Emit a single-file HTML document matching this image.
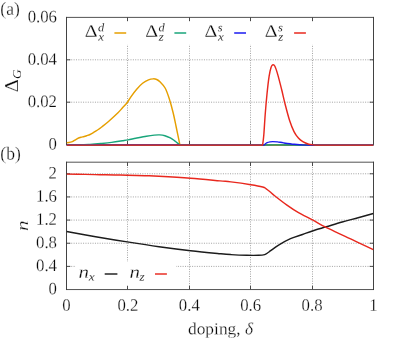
<!DOCTYPE html>
<html><head><meta charset="utf-8"><title>plot</title>
<style>html,body{margin:0;padding:0;background:#fff;overflow:hidden}svg{display:block;will-change:transform}.t{font-family:"Liberation Serif",serif}</style></head>
<body>
<svg width="415" height="341" viewBox="0 0 415 341">
<path d="M127.50,17.40 V144.60 M127.50,162.20 V289.55 M189.50,17.40 V144.60 M189.50,162.20 V289.55 M250.50,17.40 V144.60 M250.50,162.20 V289.55 M312.50,17.40 V144.60 M312.50,162.20 V289.55 M66.50,102.20 H373.50 M66.50,59.80 H373.50 M66.50,266.40 H373.50 M66.50,243.24 H373.50 M66.50,220.09 H373.50 M66.50,196.93 H373.50 M66.50,173.78 H373.50" fill="none" stroke="#8c8c8c" stroke-width="0.8" stroke-dasharray="1,1.37"/>
<rect x="76" y="21" width="242" height="23.8" fill="#fff"/>
<rect x="76" y="262" width="100" height="24.2" fill="#fff"/>
<defs><clipPath id="c1"><rect x="66.50" y="17.40" width="307.00" height="129.20"/></clipPath>
<clipPath id="c2"><rect x="66.50" y="162.20" width="307.00" height="127.35"/></clipPath></defs>
<path d="M127.50,144.60 v-3.80 M127.50,17.40 v3.80 M127.50,289.55 v-3.80 M127.50,162.20 v3.80 M189.50,144.60 v-3.80 M189.50,17.40 v3.80 M189.50,289.55 v-3.80 M189.50,162.20 v3.80 M250.50,144.60 v-3.80 M250.50,17.40 v3.80 M250.50,289.55 v-3.80 M250.50,162.20 v3.80 M312.50,144.60 v-3.80 M312.50,17.40 v3.80 M312.50,289.55 v-3.80 M312.50,162.20 v3.80 M66.50,102.20 h3.80 M373.50,102.20 h-3.80 M66.50,59.80 h3.80 M373.50,59.80 h-3.80 M66.50,266.40 h3.80 M373.50,266.40 h-3.80 M66.50,243.24 h3.80 M373.50,243.24 h-3.80 M66.50,220.09 h3.80 M373.50,220.09 h-3.80 M66.50,196.93 h3.80 M373.50,196.93 h-3.80 M66.50,173.78 h3.80 M373.50,173.78 h-3.80" fill="none" stroke="#3a3a3a" stroke-width="0.9"/>
<path d="M66.00,17.40 H374.00 M66.00,144.60 H374.00 M66.00,162.20 H374.00 M66.00,289.55 H374.00" fill="none" stroke="#4a4a4a" stroke-width="0.95"/>
<path d="M66.50,16.95 V145.05 M373.50,16.95 V145.05 M66.50,161.75 V290.00 M373.50,161.75 V290.00" fill="none" stroke="#383838" stroke-width="0.95"/>
<path d="M66.60,142.80 C67.00,142.75 68.17,142.65 69.00,142.50 C69.83,142.35 70.85,142.15 71.60,141.90 C72.35,141.65 72.85,141.35 73.50,141.00 C74.15,140.65 74.83,140.20 75.50,139.80 C76.17,139.40 76.87,138.95 77.50,138.60 C78.13,138.25 78.63,137.95 79.30,137.70 C79.97,137.45 80.68,137.30 81.50,137.10 C82.32,136.90 83.28,136.75 84.20,136.50 C85.12,136.25 86.03,135.93 87.00,135.60 C87.97,135.27 89.00,134.95 90.00,134.50 C91.00,134.05 92.05,133.45 93.00,132.90 C93.95,132.35 94.70,131.85 95.70,131.20 C96.70,130.55 97.95,129.73 99.00,129.00 C100.05,128.27 100.37,128.10 102.00,126.80 C103.63,125.50 106.13,123.53 108.80,121.20 C111.47,118.87 115.72,115.03 118.00,112.80 C120.28,110.57 120.95,109.52 122.50,107.80 C124.05,106.08 125.90,104.33 127.30,102.50 C128.70,100.67 129.33,99.02 130.90,96.80 C132.47,94.58 134.75,91.45 136.70,89.20 C138.65,86.95 140.63,84.87 142.60,83.30 C144.57,81.73 146.73,80.54 148.50,79.80 C150.27,79.06 151.83,78.90 153.20,78.85 C154.57,78.80 155.53,78.96 156.70,79.50 C157.87,80.04 158.80,80.68 160.20,82.10 C161.60,83.52 163.60,85.27 165.10,88.00 C166.60,90.73 167.85,94.33 169.20,98.50 C170.55,102.67 172.02,108.17 173.20,113.00 C174.38,117.83 175.20,122.28 176.30,127.50 C177.40,132.72 179.22,141.50 179.80,144.30 L180.3,145.2 L373.5,145.2" fill="none" stroke="#e69f00" stroke-width="1.45" stroke-linejoin="round" clip-path="url(#c1)"/>
<path d="M66.60,145.20 C68.83,145.17 76.10,145.13 80.00,145.00 C83.90,144.87 86.53,144.65 90.00,144.40 C93.47,144.15 97.18,143.83 100.80,143.50 C104.42,143.17 108.08,142.85 111.70,142.40 C115.32,141.95 119.78,141.22 122.50,140.80 C125.22,140.38 125.78,140.32 128.00,139.90 C130.22,139.48 132.73,138.92 135.80,138.30 C138.87,137.68 143.32,136.73 146.40,136.20 C149.48,135.67 152.10,135.32 154.30,135.10 C156.50,134.88 157.83,134.80 159.60,134.90 C161.37,135.00 163.12,135.20 164.90,135.70 C166.68,136.20 168.72,137.08 170.30,137.90 C171.88,138.72 172.92,139.52 174.40,140.60 C175.88,141.68 178.40,143.77 179.20,144.40 L179.9,145.2 L262.5,145.2 L263.20,145.20 C264.00,145.16 266.03,145.01 268.00,144.95 C269.97,144.89 272.17,144.85 275.00,144.85 C277.83,144.85 280.83,144.89 285.00,144.95 C289.17,145.01 297.50,145.16 300.00,145.20 L373.5,145.2" fill="none" stroke="#18a57a" stroke-width="1.45" stroke-linejoin="round" clip-path="url(#c1)"/>
<path d="M66.5,145.2 L263.5,145.2 L263.80,145.20 C264.03,145.00 264.63,144.42 265.20,144.00 C265.77,143.58 266.40,143.05 267.20,142.70 C268.00,142.35 269.07,142.08 270.00,141.90 C270.93,141.72 271.55,141.60 272.80,141.60 C274.05,141.60 275.70,141.68 277.50,141.90 C279.30,142.12 280.78,142.50 283.60,142.90 C286.42,143.30 290.83,143.93 294.40,144.30 C297.97,144.67 301.90,144.95 305.00,145.10 C308.10,145.25 311.67,145.18 313.00,145.20 L373.5,145.2" fill="none" stroke="#1a1af0" stroke-width="1.45" stroke-linejoin="round" clip-path="url(#c1)"/>
<path d="M66.5,145.2 L262.4,145.2 L262.60,145.20 C262.80,143.50 263.37,140.12 263.80,135.00 C264.23,129.88 264.67,121.33 265.20,114.50 C265.73,107.67 266.35,100.35 267.00,94.00 C267.65,87.65 268.42,80.87 269.10,76.40 C269.78,71.93 270.47,69.13 271.10,67.20 C271.73,65.27 272.27,64.95 272.90,64.80 C273.53,64.65 274.07,64.58 274.90,66.30 C275.73,68.02 276.77,71.18 277.90,75.10 C279.03,79.02 280.48,84.90 281.70,89.80 C282.92,94.70 283.88,99.38 285.20,104.50 C286.52,109.62 288.13,115.98 289.60,120.50 C291.07,125.02 292.53,128.67 294.00,131.60 C295.47,134.53 296.93,136.43 298.40,138.10 C299.87,139.77 301.08,140.58 302.80,141.60 C304.52,142.62 307.00,143.65 308.70,144.20 C310.40,144.75 311.78,144.73 313.00,144.90 C314.22,145.07 315.50,145.15 316.00,145.20 L317,145.2 L373.5,145.2" fill="none" stroke="#e8281e" stroke-width="1.45" stroke-linejoin="round" clip-path="url(#c1)"/>
<path d="M67.0,145.5 H373.0" stroke="rgb(80,90,110)" stroke-opacity="0.27" stroke-width="1"/>
<path d="M66.60,231.50 C71.43,232.37 85.48,234.97 95.60,236.70 C105.72,238.43 116.73,240.23 127.30,241.90 C137.87,243.57 148.45,245.23 159.00,246.70 C169.55,248.17 180.43,249.53 190.60,250.70 C200.77,251.87 213.28,253.05 220.00,253.70 C226.72,254.35 226.43,254.33 230.90,254.60 C235.37,254.87 242.17,255.18 246.80,255.30 C251.43,255.42 255.72,255.42 258.70,255.30 C261.68,255.18 263.23,254.98 264.70,254.60 C266.17,254.22 266.50,253.65 267.50,253.00 C268.50,252.35 268.85,252.02 270.70,250.70 C272.55,249.38 275.30,247.10 278.60,245.10 C281.90,243.10 286.52,240.47 290.50,238.70 C294.48,236.93 298.85,235.78 302.50,234.50 C306.15,233.22 308.43,232.28 312.40,231.00 C316.37,229.72 321.33,228.30 326.30,226.80 C331.27,225.30 336.90,223.52 342.20,222.00 C347.50,220.48 352.92,219.12 358.10,217.70 C363.28,216.28 370.77,214.20 373.30,213.50" fill="none" stroke="#1c1c1c" stroke-width="1.45" stroke-linejoin="round" clip-path="url(#c2)"/>
<path d="M66.60,174.10 C69.67,174.15 79.43,174.30 85.00,174.40 C90.57,174.50 95.00,174.61 100.00,174.70 C105.00,174.79 110.45,174.87 115.00,174.95 C119.55,175.03 122.30,175.07 127.30,175.20 C132.30,175.32 139.72,175.53 145.00,175.70 C150.28,175.87 151.40,175.78 159.00,176.20 C166.60,176.62 180.43,177.42 190.60,178.20 C200.77,178.98 213.28,180.28 220.00,180.90 C226.72,181.52 225.77,181.27 230.90,181.90 C236.03,182.53 245.50,183.85 250.80,184.70 C256.10,185.55 260.18,186.35 262.70,187.00 C265.22,187.65 264.68,187.80 265.90,188.60 C267.12,189.40 268.55,190.60 270.00,191.80 C271.45,193.00 271.83,193.62 274.60,195.80 C277.37,197.98 282.62,202.08 286.60,204.90 C290.58,207.72 294.20,210.22 298.50,212.70 C302.80,215.18 308.03,217.47 312.40,219.80 C316.77,222.13 320.33,224.45 324.70,226.70 C329.07,228.95 334.68,231.45 338.60,233.30 C342.52,235.15 345.00,236.30 348.20,237.80 C351.40,239.30 353.62,240.32 357.80,242.30 C361.98,244.28 370.72,248.47 373.30,249.70" fill="none" stroke="#e8281e" stroke-width="1.45" stroke-linejoin="round" clip-path="url(#c2)"/>
<path d="M114.4,33.0 h11.8" stroke="#e69f00" stroke-width="1.50"/>
<path d="M174.4,33.0 h11.8" stroke="#18a57a" stroke-width="1.50"/>
<path d="M234.2,33.0 h11.8" stroke="#1a1af0" stroke-width="1.50"/>
<path d="M294.1,33.0 h11.8" stroke="#e8281e" stroke-width="1.50"/>
<path d="M104.7,274 H117.4" stroke="#1c1c1c" stroke-width="1.45"/>
<path d="M155,274 H166.9" stroke="#e8281e" stroke-width="1.45"/>
<g class="t" fill="#0a0a0a" stroke="#fff" stroke-width="0.24">
<text transform="translate(57.00,22.30) rotate(0.03) scale(0.965,1.000)" font-size="17.4" text-anchor="end">0.06</text>
<text transform="translate(57.00,64.70) rotate(0.03) scale(0.965,1.000)" font-size="17.4" text-anchor="end">0.04</text>
<text transform="translate(57.00,107.10) rotate(0.03) scale(0.965,1.000)" font-size="17.4" text-anchor="end">0.02</text>
<text transform="translate(57.00,149.50) rotate(0.03) scale(0.965,1.000)" font-size="17.4" text-anchor="end">0</text>
<text transform="translate(57.00,178.48) rotate(0.03) scale(0.965,1.000)" font-size="17.4" text-anchor="end">2</text>
<text transform="translate(57.00,201.63) rotate(0.03) scale(0.965,1.000)" font-size="17.4" text-anchor="end">1.6</text>
<text transform="translate(57.00,224.79) rotate(0.03) scale(0.965,1.000)" font-size="17.4" text-anchor="end">1.2</text>
<text transform="translate(57.00,247.94) rotate(0.03) scale(0.965,1.000)" font-size="17.4" text-anchor="end">0.8</text>
<text transform="translate(57.00,271.10) rotate(0.03) scale(0.965,1.000)" font-size="17.4" text-anchor="end">0.4</text>
<text transform="translate(57.00,294.25) rotate(0.03) scale(0.965,1.000)" font-size="17.4" text-anchor="end">0</text>
<text transform="translate(66.50,310.70) rotate(0.03) scale(0.965,1.000)" font-size="17.4" text-anchor="middle">0</text>
<text transform="translate(127.90,310.70) rotate(0.03) scale(0.965,1.000)" font-size="17.4" text-anchor="middle">0.2</text>
<text transform="translate(189.30,310.70) rotate(0.03) scale(0.965,1.000)" font-size="17.4" text-anchor="middle">0.4</text>
<text transform="translate(250.70,310.70) rotate(0.03) scale(0.965,1.000)" font-size="17.4" text-anchor="middle">0.6</text>
<text transform="translate(312.10,310.70) rotate(0.03) scale(0.965,1.000)" font-size="17.4" text-anchor="middle">0.8</text>
<text transform="translate(373.50,310.70) rotate(0.03) scale(0.965,1.000)" font-size="17.4" text-anchor="middle">1</text>
<text transform="translate(0.30,14.80) rotate(0.03) scale(1.020,1.070)" font-size="17.2">(a)</text>
<text transform="translate(0.30,159.40) rotate(0.03) scale(1.020,1.070)" font-size="17.2">(b)</text>
<text transform="translate(188.00,334.30) rotate(0.03) scale(1.035,1.000)" font-size="16.8">doping, <tspan font-style="italic">δ</tspan></text>
<text transform="translate(17.90,92.20) rotate(-90) scale(1.160,1.070)" font-size="17.6">Δ</text>
<text transform="translate(20.70,78.90) rotate(-90) scale(1.080,1.000)" font-size="12.4" font-style="italic" stroke-width="0.12">G</text>
<text transform="translate(28.00,231.00) rotate(-90) scale(1.200,1.000)" font-size="17.5" font-style="italic">n</text>
<text transform="translate(84.70,36.70) rotate(0.03) scale(1.140,1.000)" font-size="17.6">Δ</text>
<text transform="translate(98.00,31.20) rotate(0.03) scale(1.080,1.000)" font-size="11.5" font-style="italic" stroke-width="0.12">d</text>
<text transform="translate(98.20,40.60) rotate(0.03) scale(1.120,1.000)" font-size="11.5" font-style="italic" stroke-width="0.12">x</text>
<text transform="translate(145.20,36.70) rotate(0.03) scale(1.140,1.000)" font-size="17.6">Δ</text>
<text transform="translate(158.50,31.20) rotate(0.03) scale(1.080,1.000)" font-size="11.5" font-style="italic" stroke-width="0.12">d</text>
<text transform="translate(158.70,40.60) rotate(0.03) scale(1.120,1.000)" font-size="11.5" font-style="italic" stroke-width="0.12">z</text>
<text transform="translate(204.40,36.70) rotate(0.03) scale(1.140,1.000)" font-size="17.6">Δ</text>
<text transform="translate(217.70,31.20) rotate(0.03) scale(1.080,1.000)" font-size="11.5" font-style="italic" stroke-width="0.12">s</text>
<text transform="translate(217.90,40.60) rotate(0.03) scale(1.120,1.000)" font-size="11.5" font-style="italic" stroke-width="0.12">x</text>
<text transform="translate(264.80,36.70) rotate(0.03) scale(1.140,1.000)" font-size="17.6">Δ</text>
<text transform="translate(278.10,31.20) rotate(0.03) scale(1.080,1.000)" font-size="11.5" font-style="italic" stroke-width="0.12">s</text>
<text transform="translate(278.30,40.60) rotate(0.03) scale(1.120,1.000)" font-size="11.5" font-style="italic" stroke-width="0.12">z</text>
<text transform="translate(78.40,277.80) rotate(0.03) scale(1.200,1.000)" font-size="17.5" font-style="italic">n</text>
<text transform="translate(88.80,280.60) rotate(0.03) scale(1.150,1.000)" font-size="11.5" font-style="italic" stroke-width="0.12">x</text>
<text transform="translate(129.60,277.80) rotate(0.03) scale(1.200,1.000)" font-size="17.5" font-style="italic">n</text>
<text transform="translate(139.60,280.60) rotate(0.03) scale(1.150,1.000)" font-size="11.5" font-style="italic" stroke-width="0.12">z</text>
</g>
</svg>
</body></html>
